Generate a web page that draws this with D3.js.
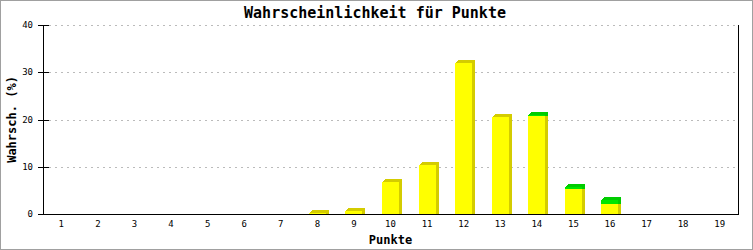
<!DOCTYPE html>
<html>
<head>
<meta charset="utf-8">
<script src="https://cdn.jsdelivr.net/npm/d3@7"></script>
<style>
body{margin:0;background:#fff}
svg text{font-family:"DejaVu Sans Mono",monospace}
</style>
</head>
<body>
<div id="chart"></div>
<script>
var categories=[1,2,3,4,5,6,7,8,9,10,11,12,13,14,15,16,17,18,19]
var yellowVals=[0,0,0,0,0,0,0,0.3,0.7,6.8,10.4,32.0,20.6,20.7,5.3,2.05,0,0,0]
var greenVals=[0,0,0,0,0,0,0,0,0,0,0,0,0,0.2,0.35,0.85,0,0,0]
var yTicks=[0,10,20,30,40]

var W=753,H=250
var margin={left:43,right:15,top:25,bottom:36}

var svg=d3.select('#chart').append('svg')
    .attr('width',W).attr('height',H)

svg.append('rect')
    .attr('x',0.5).attr('y',0.5)
    .attr('width',W-1).attr('height',H-1)
    .attr('fill','#fff').attr('stroke','#a0a0a0')

var x=d3.scaleBand().domain(categories)
    .range([margin.left,W-margin.right])
var y=d3.scaleLinear().domain([0,40])
    .range([H-margin.bottom,margin.top])

// grid
svg.append('g').selectAll('line')
    .data(yTicks.filter(function(d){return d>0}))
    .enter().append('line')
    .attr('x1',margin.left).attr('x2',W-margin.right)
    .attr('y1',function(d){return Math.round(y(d))+0.5})
    .attr('y2',function(d){return Math.round(y(d))+0.5})
    .attr('stroke','#bbb')
    .attr('stroke-dasharray','2,4')

// bars
var bw=17, off=3
var series=[]
categories.forEach(function(c,i){
    var b0=0
    ;[[yellowVals[i],'#ffff00','#d4cc00'],[greenVals[i],'#00e600','#00cc00']].forEach(function(s){
	if(s[0]>0){
	    series.push({c:c,lo:b0,hi:b0+s[0],front:s[1],side:s[2]})
	    b0+=s[0]
	}
    })
})
var g=svg.append('g').attr('shape-rendering','crispEdges')
series.forEach(function(d){
    var cx=x(d.c)+x.bandwidth()/2
    var x0=Math.round(cx-bw/2), x1=x0+bw
    var yt=Math.round(y(d.hi)), yb=Math.round(y(d.lo))
    // side
    g.append('polygon')
	.attr('points',[[x1,yb],[x1,yt],[x1+off,yt-off],[x1+off,yb]].join(' '))
	.attr('fill',d.side)
    // top
    g.append('polygon')
	.attr('points',[[x0,yt],[x0+off,yt-off],[x1+off,yt-off],[x1,yt]].join(' '))
	.attr('fill',d.side)
    g.append('rect')
	.attr('x',x0).attr('y',yt)
	.attr('width',bw).attr('height',yb-yt)
	.attr('fill',d.front)
})

// axes
var ax=svg.append('g').attr('shape-rendering','crispEdges').attr('stroke','#000')
ax.append('line').attr('x1',margin.left+0.5).attr('x2',margin.left+0.5)
    .attr('y1',margin.top).attr('y2',H-margin.bottom)
ax.append('line').attr('x1',W-margin.right+0.5).attr('x2',W-margin.right+0.5)
    .attr('y1',margin.top).attr('y2',H-margin.bottom)
ax.append('line').attr('x1',margin.left).attr('x2',W-margin.right+1)
    .attr('y1',H-margin.bottom+0.5).attr('y2',H-margin.bottom+0.5)
ax.selectAll('.tk').data(yTicks).enter().append('line')
    .attr('x1',margin.left-5).attr('x2',margin.left+6)
    .attr('y1',function(d){return Math.round(y(d))+0.5})
    .attr('y2',function(d){return Math.round(y(d))+0.5})

svg.append('g').selectAll('text').data(yTicks).enter().append('text')
    .attr('x',margin.left-10)
    .attr('y',function(d){return y(d)})
    .attr('dy','0.35em')
    .attr('text-anchor','end')
    .attr('font-size',9)
    .text(function(d){return d})

svg.append('g').selectAll('text').data(categories).enter().append('text')
    .attr('x',function(d){return x(d)+x.bandwidth()/2})
    .attr('y',H-margin.bottom+10)
    .attr('dy','0.35em')
    .attr('text-anchor','middle')
    .attr('font-size',9)
    .text(function(d){return d})

// titles
svg.append('text')
    .attr('x',375).attr('y',18)
    .attr('text-anchor','middle')
    .attr('font-size',15).attr('font-weight','bold')
    .text('Wahrscheinlichkeit für Punkte')
svg.append('text')
    .attr('x',(margin.left+W-margin.right)/2).attr('y',244)
    .attr('text-anchor','middle')
    .attr('font-size',12).attr('font-weight','bold')
    .text('Punkte')
svg.append('text')
    .attr('transform','translate(16,'+((margin.top+H-margin.bottom)/2)+') rotate(-90)')
    .attr('text-anchor','middle')
    .attr('font-size',12).attr('font-weight','bold')
    .text('Wahrsch. (%)')
</script>
</body>
</html>
